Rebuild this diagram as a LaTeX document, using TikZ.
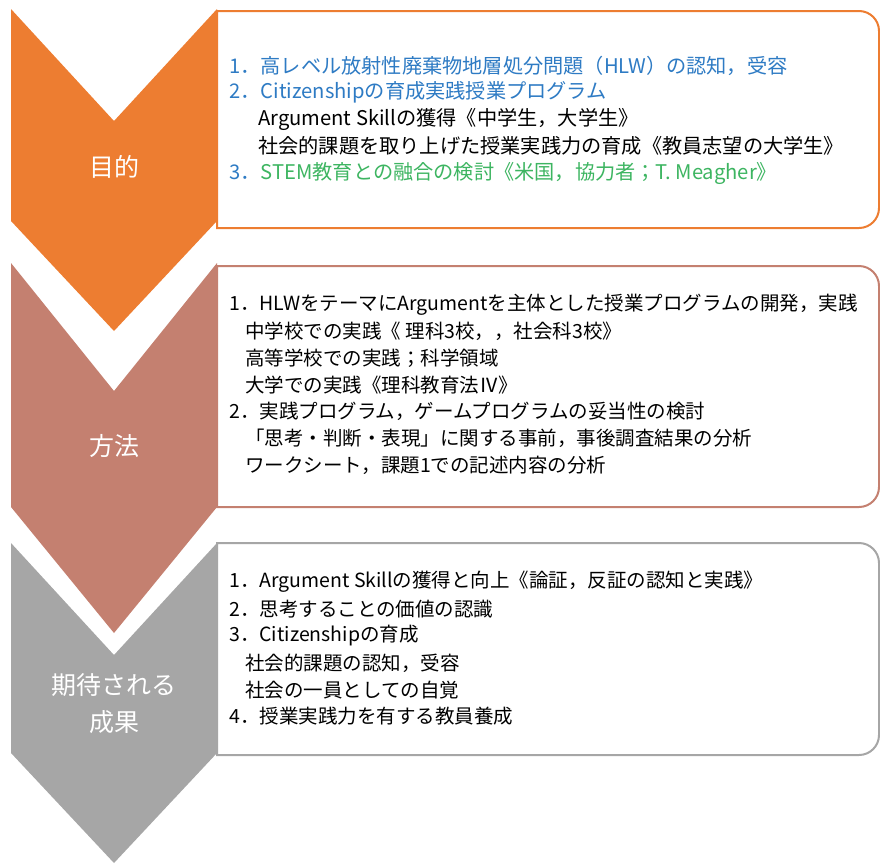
\documentclass[tikz,border=0pt]{standalone}
\usepackage{fontspec}
\setmainfont{Noto Sans CJK JP}
\definecolor{cOrange}{HTML}{ED7D31}
\definecolor{cSalmon}{HTML}{C48070}
\definecolor{cGray}{HTML}{A6A6A6}
\definecolor{cBlue}{HTML}{2E7BC4}
\definecolor{cGreen}{HTML}{3DB561}
\tikzset{
  chev/.style={draw=none},
  panel/.style={line width=2pt, fill=white},
  txt/.style={anchor=west, inner sep=0pt, font=\fontsize{19.5}{20}\selectfont},
  txtb/.style={anchor=west, inner sep=0pt, font=\fontsize{20.2}{21}\selectfont},
  lbl/.style={text=white, inner sep=0pt, align=center, font=\fontsize{25}{37}\selectfont}
}
\begin{document}
\begin{tikzpicture}[x=1pt,y=-1pt]
\useasboundingbox (0,0) rectangle (880,863);
% chevrons
\fill[cOrange] (11,9) -- (114,121) -- (217,9) -- (217,221) -- (114,331) -- (11,221) -- cycle;
\fill[cSalmon] (11,263) -- (114,391) -- (217,263) -- (217,507) -- (114,633) -- (11,507) -- cycle;
\fill[cGray] (11,543) -- (114,655) -- (217,543) -- (217,753) -- (114,863) -- (11,753) -- cycle;
% panels
\draw[panel, draw=cOrange] (217,11) -- (859,11) arc[start angle=-90, end angle=0, radius=20] -- (879,208) arc[start angle=0, end angle=90, radius=20] -- (217,228) -- cycle;
\draw[panel, draw=cSalmon] (217,266) -- (859,266) arc[start angle=-90, end angle=0, radius=20] -- (879,487) arc[start angle=0, end angle=90, radius=20] -- (217,507) -- cycle;
\draw[panel, draw=cGray] (217,543) -- (859,543) arc[start angle=-90, end angle=0, radius=20] -- (879,735) arc[start angle=0, end angle=90, radius=20] -- (217,755) -- cycle;
% labels
\node[lbl] (l1) at (114,167) {目的};
\node[lbl] (l2) at (114,446) {方法};
\node[lbl] (l3) at (114,704) {期待される\\成果};
% box 1
\node[txtb, text=cBlue] (a1) at (229,66) {1．高レベル放射性廃棄物地層処分問題（HLW）の認知，受容};
\node[txtb, text=cBlue] (a2) at (229,92) {2．Citizenshipの育成実践授業プログラム};
\node[txtb] (a3) at (258,119) {Argument Skillの獲得《中学生，大学生》};
\node[txtb] (a4) at (258,146) {社会的課題を取り上げた授業実践力の育成《教員志望の大学生》};
\node[txtb] (a5) at (229,173) {\textcolor{cBlue}{3．}\textcolor{cGreen}{STEM教育との融合の検討《米国，協力者；T. Meagher》}};
% box 2
\node[txt] (b1) at (229,305) {1．HLWをテーマにArgumentを主体とした授業プログラムの開発，実践};
\node[txt] (b2) at (245,331) {中学校での実践《 理科3校，，社会科3校》};
\node[txt] (b3) at (245,358) {高等学校での実践；科学領域};
\node[txt] (b4) at (245,385) {大学での実践《理科教育法Ⅳ》};
\node[txt] (b5) at (229,411) {2．実践プログラム，ゲームプログラムの妥当性の検討};
\node[txt] (b6) at (245,438) {「思考・判断・表現」に関する事前，事後調査結果の分析};
\node[txt] (b7) at (245,465) {ワークシート，課題1での記述内容の分析};
% box 3
\node[txt] (c1) at (229,582) {1．Argument Skillの獲得と向上《論証，反証の認知と実践》};
\node[txt] (c2) at (229,609) {2．思考することの価値の認識};
\node[txt] (c3) at (229,636) {3．Citizenshipの育成};
\node[txt] (c4) at (245,663) {社会的課題の認知，受容};
\node[txt] (c5) at (245,690) {社会の一員としての自覚};
\node[txt] (c6) at (229,716) {4．授業実践力を有する教員養成};
\end{tikzpicture}
\end{document}
